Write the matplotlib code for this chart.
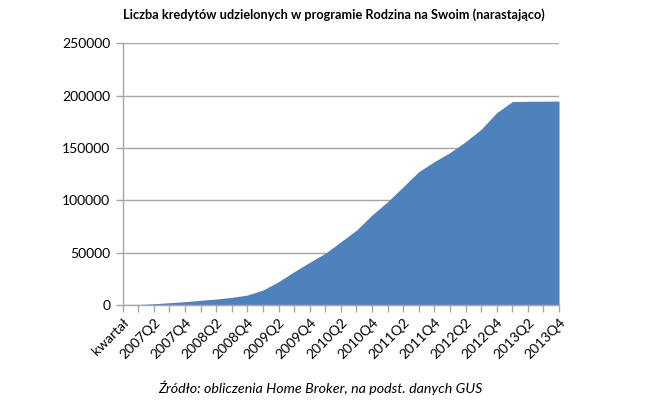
import numpy as np
import matplotlib
matplotlib.use("Agg")
import matplotlib.pyplot as plt

plt.rcParams['font.family'] = ['Lato', 'DejaVu Sans']

categories = ["kwartał"] + [f"{y}Q{q}" for y in range(2007, 2014) for q in range(1, 5)]
values = [np.nan, 300, 1200, 2200, 3200, 4500, 5700, 7300, 9500, 14300,
          22300, 31800, 40800, 49400, 60500, 71500, 86000, 98700, 113000, 127400,
          137000, 145600, 156000, 167800, 183800, 194300, 194600, 194700, 194800]
yticks = [0, 50000, 100000, 150000, 200000, 250000]
title = "Liczba kredytów udzielonych w programie Rodzina na Swoim (narastająco)"
source = "Źródło: obliczenia Home Broker, na podst. danych GUS"

fig = plt.figure(figsize=(6.61, 4.16), dpi=100)
ax = fig.add_axes([0.1856, 0.2668, 0.8457 - 0.1856, 0.8959 - 0.2668])

x = np.arange(len(categories))
v = np.array(values, dtype=float)
mask = ~np.isnan(v)
ax.fill_between(x[mask], 0, v[mask], color="#4F81BD", linewidth=0, zorder=2)

ax.set_xlim(0, len(categories) - 1)
ax.set_ylim(0, 250000)
ax.set_yticks(yticks)
ax.set_yticklabels([str(t) for t in yticks], fontsize=10, color="#000000")
ax.yaxis.grid(True, color="#A6A6A6", linewidth=1.0, zorder=0)
ax.set_axisbelow(True)

ax.set_xticks(x)
labels = [c if i % 2 == 0 else "" for i, c in enumerate(categories)]
ax.set_xticklabels(labels, rotation=45, ha="right", rotation_mode="anchor",
                   fontsize=10, color="#000000")

for s in ["top", "right"]:
    ax.spines[s].set_visible(False)
for s in ["left", "bottom"]:
    ax.spines[s].set_color("#A6A6A6")
    ax.spines[s].set_linewidth(1.0)
ax.tick_params(axis="both", color="#A6A6A6", length=5, width=1.0)
ax.tick_params(axis="x", pad=3)
ax.tick_params(axis="y", pad=4)

fig.text(0.505, 1 - 15 / 416, title, ha="center", va="center", fontsize=9.2,
         fontweight="bold")
fig.text(0.484, 1 - 388 / 416, source, ha="center", va="center", fontsize=10.3,
         style="italic")

fig.savefig("out.png", dpi=100)
